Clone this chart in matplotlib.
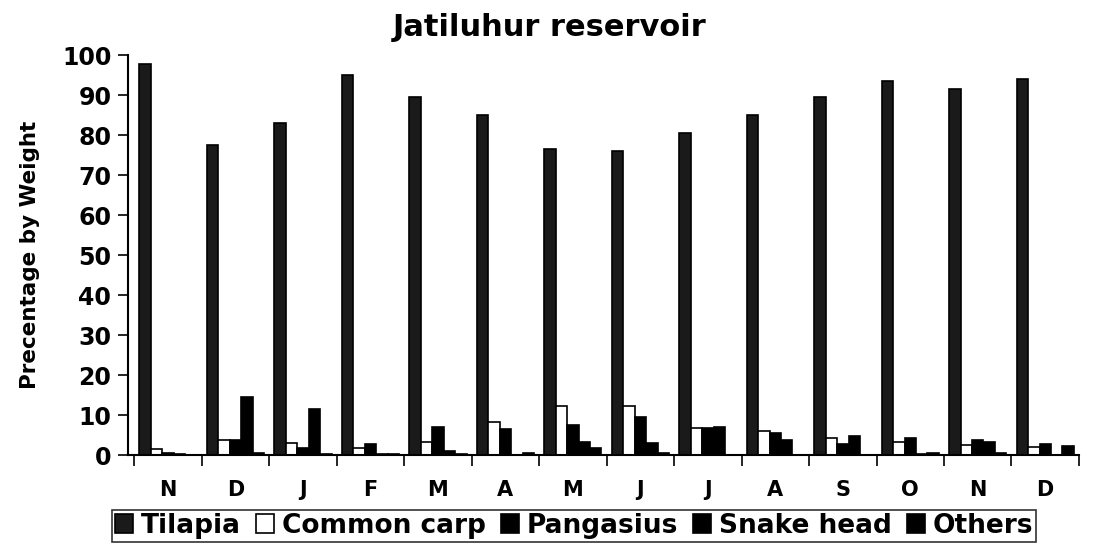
import numpy as np
import matplotlib
matplotlib.use("Agg")
import matplotlib.pyplot as plt

months = ["N", "D", "J", "F", "M", "A", "M", "J", "J", "A", "S", "O", "N", "D"]
tilapia = [97.8, 77.5, 83, 95, 89.5, 85, 76.5, 76, 80.5, 85, 89.5, 93.5, 91.5, 94]
common_carp = [1.5, 3.8, 2.9, 1.8, 3.2, 8.3, 12.2, 12.2, 6.8, 6.1, 4.2, 3.2, 2.6, 1.9]
pangasius = [0.6, 3.8, 1.8, 2.8, 7.1, 6.5, 7.5, 9.6, 6.8, 5.4, 2.8, 4.3, 3.7, 2.8]
snake_head = [0.2, 14.4, 11.5, 0.3, 0.9, 0.1, 3.2, 2.9, 6.9, 3.8, 4.8, 0.3, 3.3, 0.0]
others = [0.1, 0.4, 0.3, 0.3, 0.2, 0.4, 1.7, 0.5, 0.1, 0.1, 0.1, 0.5, 0.6, 2.3]

series = [("Tilapia", tilapia), ("Common carp", common_carp), ("Pangasius", pangasius),
          ("Snake head", snake_head), ("Others", others)]
faces = ["#1a1a1a", "white", "black", "black", "black"]

plt.rcParams['font.family'] = ['DejaVu Sans']
plt.rcParams['font.weight'] = 'bold'

fig = plt.figure(figsize=(11, 5.45), dpi=100)
ax = fig.add_axes([0.1164, 0.165, 0.8645, 0.734])

x = np.arange(len(months))
w = 0.17
for j, (name, vals) in enumerate(series):
    ax.bar(x + (j - 2) * w, vals, w, color=faces[j], edgecolor="black", linewidth=1.2, label=name)

ax.set_xlim(-0.59, 13.5)
ax.set_ylim(0, 100)
ax.set_yticks(range(0, 101, 10))
ax.tick_params(axis='y', labelsize=17, length=7, width=1.2, direction='out', pad=5)
ax.set_xticks(np.arange(-0.5, 13.6, 1))
ax.set_xticklabels([])
ax.tick_params(axis='x', which='major', length=8, width=1.2, direction='out')
ax.set_xticks(x, minor=True)
ax.set_xticklabels(months, minor=True, fontsize=15)
ax.tick_params(axis='x', which='minor', length=0, pad=18)
for s in ["top", "right"]:
    ax.spines[s].set_visible(False)
for s in ["left", "bottom"]:
    ax.spines[s].set_linewidth(1.5)

ax.set_ylabel("Precentage by Weight", fontsize=15.5, fontweight='bold', labelpad=16)
ax.set_title("Jatiluhur reservoir", fontsize=22, fontweight='bold', pad=14, x=0.443)

leg = fig.legend(loc='center', bbox_to_anchor=(0.522, 0.035), ncol=5, fontsize=19,
                 frameon=True, fancybox=False, edgecolor="black", handlelength=0.7,
                 handleheight=0.7, handletextpad=0.3, columnspacing=0.55, borderpad=0.1,
                 borderaxespad=0)
leg.get_frame().set_linewidth(1.2)

fig.savefig("out.png", dpi=100)
